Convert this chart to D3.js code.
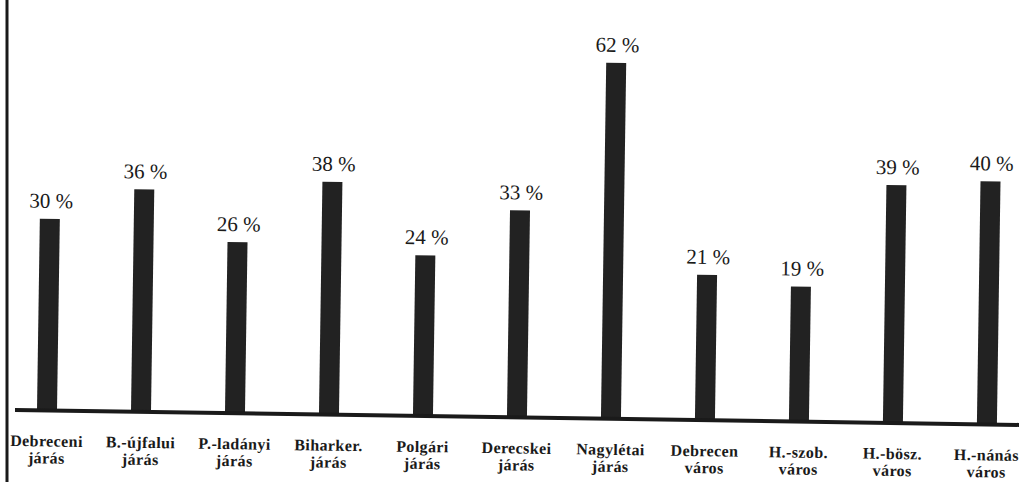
<!DOCTYPE html>
<html lang="hu">
<head>
<meta charset="utf-8" />
<title>Járások és városok</title>
<script src="https://cdn.jsdelivr.net/npm/d3@7"></script>
<style>
  body { margin: 0; background: #fff; }
  text { font-family: "Times New Roman", "Liberation Serif", "DejaVu Serif", Lato, serif; }
</style>
</head>
<body>
<div id="chart"></div>
<script>
// categories (two-line labels) and percentages
var names1 = ["Debreceni", "B.-újfalui", "P.-ladányi", "Biharker.", "Polgári", "Derecskei", "Nagylétai", "Debrecen", "H.-szob.", "H.-bösz.", "H.-nánás"];
var names2 = ["járás", "járás", "járás", "járás", "járás", "járás", "járás", "város", "város", "város", "város"];
var values = [30, 36, 26, 38, 24, 33, 62, 21, 19, 39, 40];

var width = 1019, height = 482;
var base = 410;

var svg = d3.select("#chart").append("svg")
    .attr("width", width)
    .attr("height", height);

// left frame line
svg.append("line")
    .attr("x1", 7).attr("x2", 7)
    .attr("y1", 0).attr("y2", height)
    .attr("stroke", "#1a1a1a")
    .attr("stroke-width", 3);

// the scanned page is slightly tilted
var g = svg.append("g")
    .attr("transform", "rotate(0.85, 15, " + base + ")");

var x = d3.scalePoint()
    .domain(d3.range(values.length))
    .range([47, 987]);

var y = d3.scaleLinear()
    .domain([-7.3, 62])
    .range([base, base - 356]);

// bars
g.selectAll(".bar")
    .data(values)
  .enter().append("rect")
    .attr("class", "bar")
    .attr("x", function(d, i) { return x(i) - 10; })
    .attr("width", 20)
    .attr("y", function(d) { return y(d); })
    .attr("height", function(d) { return base - y(d); })
    .attr("fill", "#222");

// baseline
g.append("line")
    .attr("x1", 15).attr("x2", 1040)
    .attr("y1", base).attr("y2", base)
    .attr("stroke", "#1a1a1a")
    .attr("stroke-width", 4);

// value labels
g.selectAll(".val")
    .data(values)
  .enter().append("text")
    .attr("class", "val")
    .attr("font-size", 21)
    .attr("fill", "#1a1a1a")
    .attr("x", function(d, i) { return x(i) + 1; })
    .attr("y", function(d) { return y(d) - 11; })
    .attr("text-anchor", "middle")
    .text(function(d) { return d + " %"; });

// category labels
var cats = g.selectAll(".cat")
    .data(names1)
  .enter().append("text")
    .attr("class", "cat")
    .attr("font-size", 16)
    .attr("font-weight", "bold")
    .attr("letter-spacing", 0.4)
    .attr("fill", "#1a1a1a")
    .attr("text-anchor", "middle")
    .attr("x", function(d, i) { return x(i); })
    .attr("y", base + 36);

cats.append("tspan")
    .attr("x", function(d, i) { return x(i); })
    .text(function(d) { return d; });

cats.append("tspan")
    .attr("x", function(d, i) { return x(i); })
    .attr("dy", 17)
    .text(function(d, i) { return names2[i]; });
</script>
</body>
</html>
